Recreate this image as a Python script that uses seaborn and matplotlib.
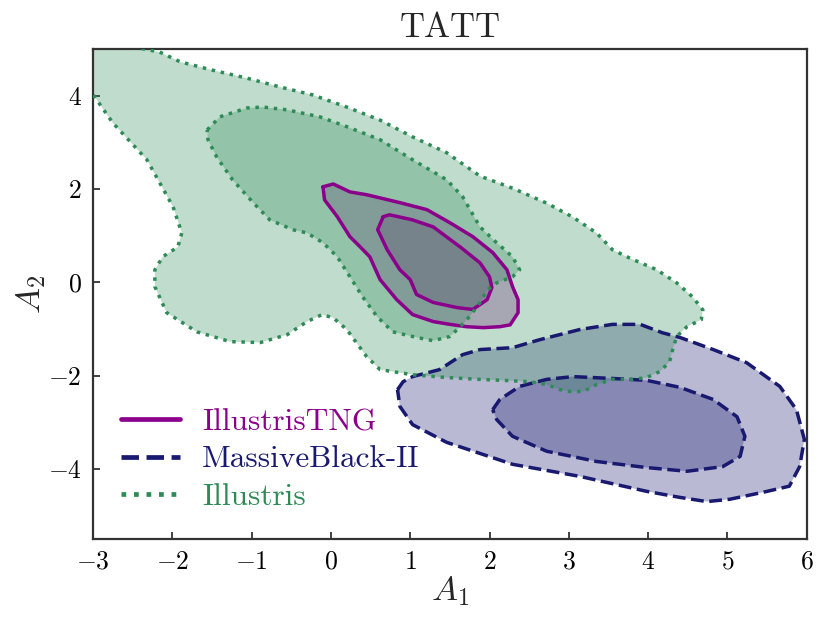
import numpy as np
import pandas as pd
import matplotlib
matplotlib.use("Agg")
import matplotlib.pyplot as plt
from matplotlib.lines import Line2D
import seaborn as sns

# ---------------- data: contour outlines ----------------
# IllustrisTNG (outer = 95%, inner = 68%)
tng_outer_x = [-0.10, 0.03, 0.24, 0.45, 0.87, 1.21, 1.50, 1.79, 2.04, 2.22, 2.29, 2.36, 2.36, 2.26,
               2.13, 1.92, 1.71, 1.50, 1.29, 1.03, 0.83, 0.62, 0.49, 0.37, 0.24, 0.08, -0.08]
tng_outer_y = [2.05, 2.11, 1.94, 1.88, 1.71, 1.56, 1.28, 0.98, 0.64, 0.27, -0.09, -0.37, -0.65, -0.91,
               -0.95, -0.97, -0.95, -0.90, -0.84, -0.69, -0.37, 0.06, 0.55, 0.76, 0.98, 1.41, 1.77]
tng_inner_x = [0.66, 0.74, 1.03, 1.29, 1.63, 1.88, 2.00, 2.03, 1.97, 1.79, 1.59, 1.29, 1.08, 1.00,
               0.87, 0.71, 0.59]
tng_inner_y = [1.41, 1.45, 1.34, 1.19, 0.76, 0.42, 0.12, -0.11, -0.37, -0.58, -0.54, -0.43, -0.26,
               0.06, 0.27, 0.70, 1.13]

# MassiveBlack-II
mb_outer_x = [0.84, 0.91, 1.03, 1.37, 1.66, 1.88, 2.29, 2.63, 3.14, 3.55, 3.90, 4.18, 4.40, 4.82,
              5.24, 5.66, 5.87, 5.97, 5.91, 5.78, 5.45, 5.03, 4.74, 4.40, 3.98, 3.14, 2.29, 1.46,
              1.03, 0.87]
mb_outer_y = [-2.30, -2.13, -2.02, -1.87, -1.55, -1.44, -1.40, -1.23, -1.01, -0.90, -0.90, -1.08,
              -1.18, -1.44, -1.72, -2.23, -2.73, -3.37, -3.95, -4.37, -4.50, -4.65, -4.70, -4.61,
              -4.48, -4.16, -3.90, -3.43, -3.05, -2.66]
mb_inner_x = [2.04, 2.13, 2.38, 2.72, 3.05, 3.55, 3.98, 4.40, 4.82, 5.12, 5.22, 5.16, 4.94, 4.49,
              3.98, 3.35, 2.72, 2.29, 2.09]
mb_inner_y = [-2.73, -2.51, -2.23, -2.08, -2.02, -2.06, -2.10, -2.25, -2.51, -2.88, -3.30, -3.73,
              -3.95, -4.05, -3.97, -3.84, -3.62, -3.30, -2.94]

# Illustris
il_outer_x = [-2.50, -2.16, -1.90, -1.49, -1.06, -0.64, -0.23, 0.20, 0.62, 1.03, 1.46, 1.88, 2.29,
              2.72, 3.05, 3.35, 3.55, 3.77, 4.11, 4.36, 4.56, 4.69, 4.67, 4.49, 4.36, 4.31, 4.27,
              4.15, 3.98, 3.81, 3.55, 3.35, 3.18, 3.01, 2.89, 2.72, 2.51, 2.29, 1.88, 1.46, 1.03,
              0.62, 0.45, 0.20, 0.03, -0.11, -0.30, -0.55, -0.89, -1.27, -1.69, -2.07, -2.22,
              -2.22, -2.12, -1.93, -1.88, -1.99, -2.32, -2.75, -3.00, -3.30, -3.30, -2.60]
il_outer_y = [5.05, 4.94, 4.73, 4.55, 4.38, 4.19, 4.02, 3.76, 3.48, 3.12, 2.78, 2.28, 2.02,
              1.70, 1.40, 1.06, 0.70, 0.52, 0.27, -0.01, -0.31, -0.59, -0.80, -0.95, -1.16, -1.44,
              -1.70, -1.91, -2.04, -2.08, -2.08, -2.19, -2.34, -2.34, -2.30, -2.19, -2.13, -2.11,
              -2.08, -2.04, -1.98, -1.87, -1.59, -1.01, -0.76, -0.69, -0.84, -1.12, -1.29, -1.27,
              -1.06, -0.65, -0.09, 0.27, 0.55, 0.76, 1.06, 1.62, 2.63, 3.42, 4.03, 4.60, 5.30,
              5.30]
il_inner_x = [-1.56, -1.40, -1.06, -0.86, -0.55, -0.14, 0.20, 0.62, 1.03, 1.46, 1.66, 1.88, 2.09,
              2.29, 2.38, 2.29, 2.09, 1.97, 1.88, 1.75, 1.63, 1.50, 1.29, 1.08, 0.78, 0.58, 0.40,
              0.24, 0.08, -0.10, -0.30, -0.48, -0.77, -0.98, -1.24, -1.44, -1.55]
il_inner_y = [3.27, 3.55, 3.74, 3.76, 3.70, 3.55, 3.34, 3.06, 2.63, 2.20, 1.84, 1.19, 0.85,
              0.55, 0.27, 0.12, -0.01, -0.16, -0.43, -0.73, -0.95, -1.16, -1.25, -1.18, -1.06,
              -0.73, -0.31, 0.12, 0.55, 0.85, 1.06, 1.13, 1.34, 1.71, 2.20, 2.69, 3.06]

labels = ["IllustrisTNG", "MassiveBlack-II", "Illustris"]
colors = ["#8B008B", "#191970", "#2E8B57"]
title = "TATT"
xlabel = r"$A_1$"
ylabel = r"$A_2$"

# ---------------- style ----------------
sns.set_style("ticks")
plt.rcParams["font.family"] = ["serif"]
plt.rcParams["font.serif"] = ["cmr10", "DejaVu Serif"]
plt.rcParams["mathtext.fontset"] = "cm"
plt.rcParams["axes.formatter.use_mathtext"] = True
plt.rcParams["axes.unicode_minus"] = True

fig, ax = plt.subplots(figsize=(8.3, 6.23), dpi=100)
fig.subplots_adjust(left=0.112, right=0.972, top=0.921, bottom=0.135)

sets = [
    (tng_outer_x, tng_outer_y, tng_inner_x, tng_inner_y, colors[0], "-"),
    (mb_outer_x, mb_outer_y, mb_inner_x, mb_inner_y, colors[1], "--"),
    (il_outer_x, il_outer_y, il_inner_x, il_inner_y, colors[2], ":"),
]

# fills first
for ox, oy, ix, iy, c, ls in sets:
    ax.fill(ox, oy, color=c, alpha=0.3, lw=0, zorder=1)
    ax.fill(ix, iy, color=c, alpha=0.3, lw=0, zorder=1)

# outlines on top
for ox, oy, ix, iy, c, ls in sets:
    for px, py in [(ox, oy), (ix, iy)]:
        df = pd.DataFrame({"x": list(px) + [px[0]], "y": list(py) + [py[0]]})
        sns.lineplot(data=df, x="x", y="y", sort=False, estimator=None, ax=ax,
                     color=c, linestyle=ls, linewidth=2.5, zorder=3)

ax.set_xlim(-3, 6)
ax.set_ylim(-5.5, 5)
ax.set_xticks([-3, -2, -1, 0, 1, 2, 3, 4, 5, 6])
ax.set_yticks([-4, -2, 0, 2, 4])
ax.tick_params(direction="in", length=5, width=1.2, labelsize=18.5, color="#222222",
               labelcolor="black", top=False, right=False, pad=8)
for sp in ax.spines.values():
    sp.set_color("#333333")
    sp.set_linewidth(1.6)

ax.set_title(title, fontsize=25, pad=9)
ax.set_xlabel(xlabel, fontsize=25, labelpad=0)
ax.set_ylabel(ylabel, fontsize=25, labelpad=0)

handles = [Line2D([], [], color=c, linestyle=ls, linewidth=3.4) for (_, _, _, _, c, ls) in sets]
leg = ax.legend(handles, labels, loc="lower left", frameon=False, fontsize=22.5,
                handlelength=1.9, handletextpad=0.7, labelspacing=0.3,
                bbox_to_anchor=(0.0, 0.0))
for t, c in zip(leg.get_texts(), colors):
    t.set_color(c)

fig.savefig("out.png", dpi=100)
